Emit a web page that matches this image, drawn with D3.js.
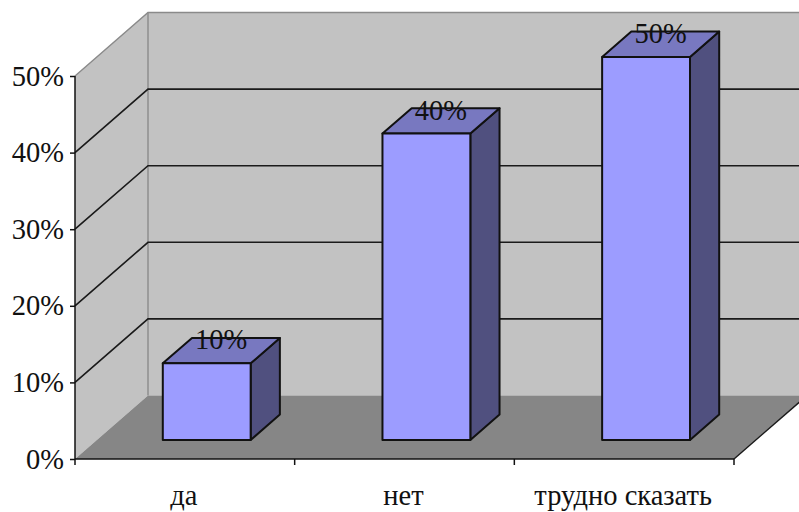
<!DOCTYPE html>
<html>
<head>
<meta charset="utf-8">
<script src="https://cdn.jsdelivr.net/npm/d3@7/dist/d3.min.js"></script>
<style>
html,body{margin:0;padding:0;background:#fff;overflow:hidden}
svg{display:block}
text{font-family:"Liberation Serif","Times New Roman",serif;font-size:28.5px;fill:#111}
</style>
</head>
<body>
<svg id="chart" width="799" height="512"></svg>
<script>
// Chart content
const categories = ["да", "нет", "трудно сказать"];
const values = [10, 40, 50];
const valueTicks = [0, 10, 20, 30, 40, 50];

// Pseudo-3D box: front plane of the plot and the offset to its back wall
const front = {left: 75, right: 734, bottom: 459, top: 76};
const depth = {dx: 73, dy: -63.5};
const barDepthStart = 0.3, barDepthSize = 0.4;

const svg = d3.select("#chart");
const x = d3.scaleBand().domain(categories).range([front.left, front.right]).paddingInner(0).paddingOuter(0);
const y = d3.scaleLinear().domain([0, 50]).range([front.bottom, front.top]);

// Project a front-plane point to a given fraction of the depth
const proj = (px, py, d) => [px + depth.dx * d, py + depth.dy * d];
const poly = pts => "M" + pts.map(p => p.join(",")).join("L") + "Z";

const yMax = y(50), yMin = y(0);

// Left wall and back wall
svg.append("path").attr("fill", "#c2c2c2")
  .attr("d", poly([[front.left, yMin], [front.left, yMax], proj(front.left, yMax, 1), proj(front.left, yMin, 1)]));
svg.append("path").attr("fill", "#c2c2c2")
  .attr("d", poly([proj(front.left, yMin, 1), proj(front.left, yMax, 1), [799, yMax + depth.dy], [799, yMin + depth.dy]]));

// Floor
svg.append("path").attr("fill", "#868686")
  .attr("d", poly([[front.left, yMin], [front.right, yMin], proj(front.right, yMin, 1), proj(front.left, yMin, 1)]));

// Wall outlines
const greyLine = "#8a8a8a";
svg.append("path").attr("fill", "none").attr("stroke", greyLine).attr("stroke-width", 1.4)
  .attr("d", "M" + [[front.left, yMax], proj(front.left, yMax, 1), [799, yMax + depth.dy]].join("L"));
svg.append("path").attr("fill", "none").attr("stroke", greyLine).attr("stroke-width", 1.4)
  .attr("d", "M" + [proj(front.left, yMax, 1), proj(front.left, yMin, 1)].join("L"));

// Gridlines run along the left wall, then across the back wall
svg.append("g").selectAll("path").data(valueTicks.filter(t => t > 0 && t < 50)).join("path")
  .attr("fill", "none").attr("stroke", "#1a1a1a").attr("stroke-width", 1.6)
  .attr("d", t => "M" + [[front.left, y(t)], proj(front.left, y(t), 1), [799, y(t) + depth.dy]].join("L"));

// Right edge of the floor
svg.append("path").attr("stroke", "#1a1a1a").attr("stroke-width", 1.4).attr("fill", "none")
  .attr("d", "M" + [[front.right, yMin], proj(front.right, yMin, 1)].join("L"));

// Bars: side, top, front
const barW = x.bandwidth() * barDepthSize;
const rows = categories.map((c, i) => ({c, v: values[i]}));
const bars = svg.append("g").selectAll("g").data(rows).join("g")
  .attr("stroke", "#111").attr("stroke-width", 2).attr("stroke-linejoin", "round");

const corners = d => {
  const x0 = x(d.c) + (x.bandwidth() - barW) / 2;
  const x1 = x0 + barW;
  const base = y(0), top = y(d.v);
  return {
    a: proj(x0, base, barDepthStart), b: proj(x1, base, barDepthStart),
    c: proj(x1, top, barDepthStart), e: proj(x0, top, barDepthStart),
    f: proj(x1, base, barDepthStart + barDepthSize), g: proj(x1, top, barDepthStart + barDepthSize),
    h: proj(x0, top, barDepthStart + barDepthSize)
  };
};
bars.append("path").attr("fill", "#50507f").attr("d", d => { const k = corners(d); return poly([k.b, k.f, k.g, k.c]); });
bars.append("path").attr("fill", "#7878c0").attr("d", d => { const k = corners(d); return poly([k.e, k.c, k.g, k.h]); });
bars.append("path").attr("fill", "#9c9cff").attr("d", d => { const k = corners(d); return poly([k.a, k.b, k.c, k.e]); });

// Value labels sit on the bar tops
svg.append("g").selectAll("text").data(rows).join("text")
  .attr("text-anchor", "middle")
  .attr("x", d => corners(d).e[0] + barW / 2 + 14.5)
  .attr("y", d => corners(d).e[1] - 14)
  .text(d => d.v + "%");

// Axes on the front plane
const axisY = svg.append("g").attr("transform", `translate(${front.left},0)`)
  .call(d3.axisLeft(y).tickValues(valueTicks).tickFormat(d => d + "%").tickSize(5).tickPadding(6));
const axisX = svg.append("g").attr("transform", `translate(-1,${front.bottom})`)
  .call(d3.axisBottom(x).tickSize(0).tickPadding(26));
svg.append("g").selectAll("line").data(d3.range(categories.length + 1)).join("line")
  .attr("x1", i => front.left + i * x.step()).attr("x2", i => front.left + i * x.step())
  .attr("y1", front.bottom).attr("y2", front.bottom + 6)
  .attr("stroke", "#111").attr("stroke-width", 1.5);
[axisY, axisX].forEach(a => {
  a.selectAll("path.domain").attr("stroke", "#111").attr("stroke-width", 1.5);
  a.selectAll(".tick line").attr("stroke", "#111").attr("stroke-width", 1.5);
  a.selectAll("text").attr("font-family", null).attr("font-size", null)
    .style("font-family", '"Liberation Serif",serif').style("font-size", "28.5px");
});
axisY.selectAll("path.domain").attr("d", `M0,${y(50)}V${y(0)}`);
axisX.selectAll("path.domain").attr("d", `M${front.left + 1},0H${front.right + 1}`);
</script>
</body>
</html>
